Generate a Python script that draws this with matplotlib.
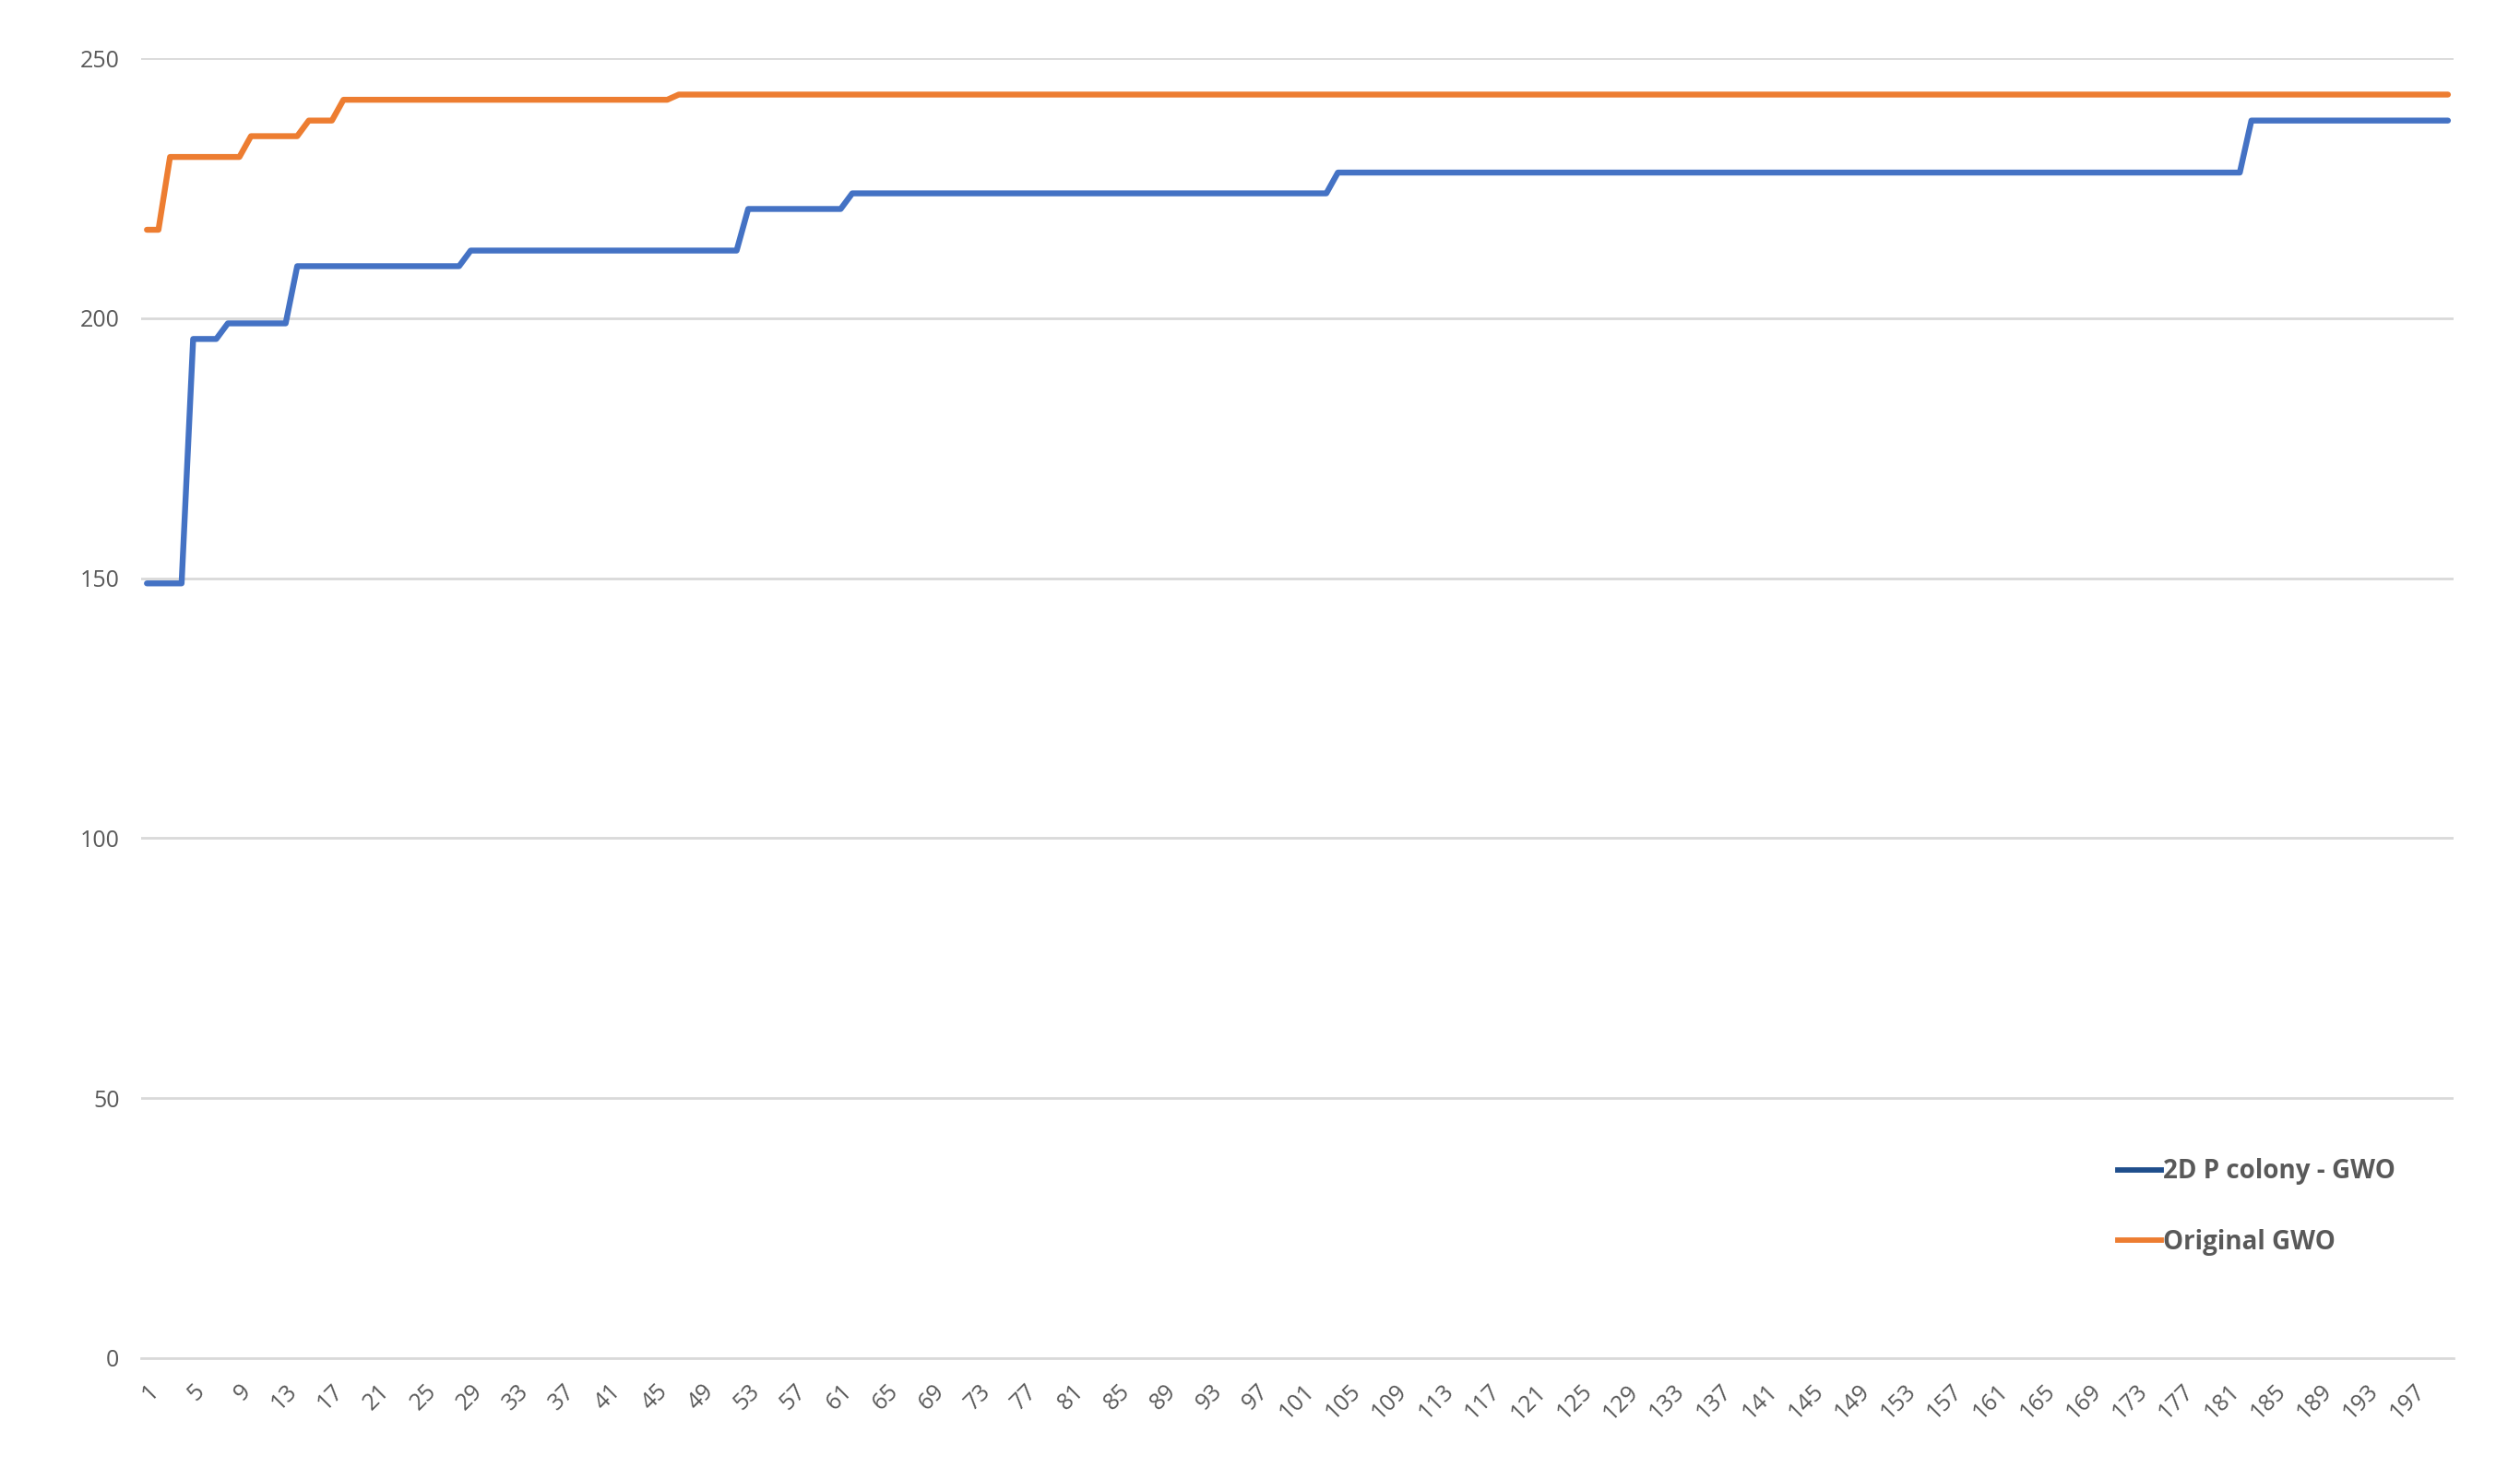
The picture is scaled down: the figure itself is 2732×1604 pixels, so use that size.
import matplotlib
matplotlib.use("Agg")
import matplotlib.pyplot as plt
from matplotlib.lines import Line2D

# ---------------- data ----------------
iterations = list(range(1, 201))

gwo_2d_p_colony = [
    149, 149, 149, 149, 196, 196, 196, 199, 199, 199, 199, 199, 199, 210, 210, 210, 210, 210, 210, 210,
    210, 210, 210, 210, 210, 210, 210, 210, 213, 213, 213, 213, 213, 213, 213, 213, 213, 213, 213, 213,
    213, 213, 213, 213, 213, 213, 213, 213, 213, 213, 213, 213, 221, 221, 221, 221, 221, 221, 221, 221,
    221, 224, 224, 224, 224, 224, 224, 224, 224, 224, 224, 224, 224, 224, 224, 224, 224, 224, 224, 224,
    224, 224, 224, 224, 224, 224, 224, 224, 224, 224, 224, 224, 224, 224, 224, 224, 224, 224, 224, 224,
    224, 224, 224, 228, 228, 228, 228, 228, 228, 228, 228, 228, 228, 228, 228, 228, 228, 228, 228, 228,
    228, 228, 228, 228, 228, 228, 228, 228, 228, 228, 228, 228, 228, 228, 228, 228, 228, 228, 228, 228,
    228, 228, 228, 228, 228, 228, 228, 228, 228, 228, 228, 228, 228, 228, 228, 228, 228, 228, 228, 228,
    228, 228, 228, 228, 228, 228, 228, 228, 228, 228, 228, 228, 228, 228, 228, 228, 228, 228, 228, 228,
    228, 228, 238, 238, 238, 238, 238, 238, 238, 238, 238, 238, 238, 238, 238, 238, 238, 238, 238, 238,
]

original_gwo = [
    217, 217, 231, 231, 231, 231, 231, 231, 231, 235, 235, 235, 235, 235, 238, 238, 238, 242, 242, 242,
    242, 242, 242, 242, 242, 242, 242, 242, 242, 242, 242, 242, 242, 242, 242, 242, 242, 242, 242, 242,
    242, 242, 242, 242, 242, 242, 243, 243, 243, 243, 243, 243, 243, 243, 243, 243, 243, 243, 243, 243,
    243, 243, 243, 243, 243, 243, 243, 243, 243, 243, 243, 243, 243, 243, 243, 243, 243, 243, 243, 243,
    243, 243, 243, 243, 243, 243, 243, 243, 243, 243, 243, 243, 243, 243, 243, 243, 243, 243, 243, 243,
    243, 243, 243, 243, 243, 243, 243, 243, 243, 243, 243, 243, 243, 243, 243, 243, 243, 243, 243, 243,
    243, 243, 243, 243, 243, 243, 243, 243, 243, 243, 243, 243, 243, 243, 243, 243, 243, 243, 243, 243,
    243, 243, 243, 243, 243, 243, 243, 243, 243, 243, 243, 243, 243, 243, 243, 243, 243, 243, 243, 243,
    243, 243, 243, 243, 243, 243, 243, 243, 243, 243, 243, 243, 243, 243, 243, 243, 243, 243, 243, 243,
    243, 243, 243, 243, 243, 243, 243, 243, 243, 243, 243, 243, 243, 243, 243, 243, 243, 243, 243, 243,
]

series_labels = ["2D P colony - GWO", "Original GWO"]
y_ticks = [0, 50, 100, 150, 200, 250]
x_tick_labels = list(range(1, 201, 4))

# ---------------- style ----------------
plt.rcParams["font.family"] = ["Open Sans", "DejaVu Sans"]
blue = "#4472C4"
orange = "#ED7D31"
blue_legend = "#1F4E8C"
grid_col = "#D9D9D9"
text_col = "#595959"

fig = plt.figure(figsize=(27.32, 16.04), dpi=100)
ax = fig.add_axes([0.056, 0.0823, 0.9177, 0.8784])

ax.plot(iterations, gwo_2d_p_colony, color=blue, lw=4.6,
        solid_joinstyle="round", solid_capstyle="round", zorder=3)
ax.plot(iterations, original_gwo, color=orange, lw=4.6,
        solid_joinstyle="round", solid_capstyle="round", zorder=3)

ax.set_xlim(0.5, 200.5)
ax.set_ylim(0, 250)
ax.set_yticks(y_ticks)
ax.set_xticks(x_tick_labels)
ax.set_xticklabels([str(v) for v in x_tick_labels], rotation=45,
                   ha="right", va="top", rotation_mode="anchor")

ax.grid(axis="y", color=grid_col, lw=2.0, zorder=0)
ax.set_axisbelow(True)
for s in ["left", "right", "top"]:
    ax.spines[s].set_visible(False)
ax.spines["bottom"].set_color(grid_col)
ax.spines["bottom"].set_linewidth(2.0)

ax.tick_params(axis="y", length=0, pad=17, labelsize=18, labelcolor=text_col)
ax.tick_params(axis="x", length=0, pad=17, labelsize=18, labelcolor=text_col)

handles = [Line2D([0], [0], color=blue_legend, lw=4.2),
           Line2D([0], [0], color=orange, lw=4.2)]
leg = fig.legend(handles, series_labels, loc="center left",
                 bbox_to_anchor=(0.8404, 0.1845), frameon=False,
                 borderpad=0, borderaxespad=0, handlelength=1.7,
                 handletextpad=0.05, labelspacing=1.7,
                 prop={"size": 20, "weight": "bold"})
for t in leg.get_texts():
    t.set_color(text_col)

fig.savefig("out.png", dpi=100, facecolor="white")
